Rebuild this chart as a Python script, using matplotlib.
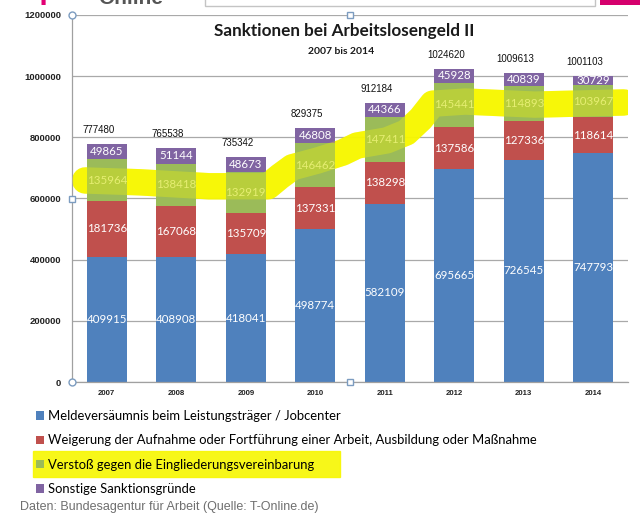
import matplotlib
matplotlib.use("Agg")
import matplotlib.pyplot as plt
from matplotlib.patches import Rectangle
import numpy as np

YEARS = ["2007", "2008", "2009", "2010", "2011", "2012", "2013", "2014"]
MELDE = [409915, 408908, 418041, 498774, 582109, 695665, 726545, 747793]
WEIGERUNG = [181736, 167068, 135709, 137331, 138298, 137586, 127336, 118614]
VERSTOSS = [135964, 138418, 132919, 146462, 147411, 145441, 114893, 103967]
SONSTIGE = [49865, 51144, 48673, 46808, 44366, 45928, 40839, 30729]
TOTALS = [777480, 765538, 735342, 829375, 912184, 1024620, 1009613, 1001103]

LABELS = ["Meldeversäumnis beim Leistungsträger / Jobcenter",
          "Weigerung der Aufnahme oder Fortführung einer Arbeit, Ausbildung oder Maßnahme",
          "Verstoß gegen die Eingliederungsvereinbarung",
          "Sonstige Sanktionsgründe"]

# freehand highlighter stroke (category position, value)
MARK_X = [-0.31, 0.47, 1.47, 2.32, 2.49, 2.67, 3.03, 3.39, 3.60, 4.03, 4.31, 4.52, 4.69, 5.16, 6.16, 7.44]
MARK_Y = [659e3, 653e3, 640e3, 640e3, 672e3, 702e3, 724e3, 750e3, 773e3, 790e3, 816e3, 861e3, 910e3, 917e3, 907e3, 914e3]

C_BLUE, C_RED, C_GREEN, C_PURPLE = "#4f81bd", "#c0504d", "#9bbb59", "#8064a2"
YELLOW = "#f7f700"
CAL = ["Lato", "DejaVu Sans"]
ARIAL = ["Liberation Sans", "DejaVu Sans"]

W, H = 640, 519
fig = plt.figure(figsize=(6.4, 5.19), dpi=100, facecolor="white")
ax = fig.add_axes([72 / W, 1 - 382 / H, 556 / W, 367 / H])

x = np.arange(len(YEARS))
bw = 0.57
series = [MELDE, WEIGERUNG, VERSTOSS, SONSTIGE]
colors = [C_BLUE, C_RED, C_GREEN, C_PURPLE]
txt_colors = ["white", "white", "#e6ee72", "white"]
bottom = np.zeros(len(YEARS))
handles = []
for vals, col, tc in zip(series, colors, txt_colors):
    vals = np.array(vals)
    b = ax.bar(x, vals, bw, bottom=bottom, color=col, zorder=2)
    handles.append(b)
    for xi, bo, v in zip(x, bottom, vals):
        ax.text(xi, bo + v / 2, f"{v}", ha="center", va="center", fontsize=8.3,
                color=tc, family=CAL, zorder=6)
    bottom = bottom + vals

for xi, t, top in zip(x, TOTALS, bottom):
    ax.text(xi - 0.12, top + 14 * 3263, f"{t}", ha="center", va="center",
            fontsize=7, color="#111111", family=ARIAL, zorder=6)

# highlighter: strong on white background, light tint over the bars
ax.plot(MARK_X, MARK_Y, color=YELLOW, lw=19, alpha=0.95, solid_capstyle="round",
        solid_joinstyle="round", zorder=1)
ax.plot(MARK_X, MARK_Y, color=YELLOW, lw=19, alpha=0.32, solid_capstyle="round",
        solid_joinstyle="round", zorder=3)

ax.set_xlim(-0.5, 7.5)
ax.set_ylim(0, 1200000)
ax.set_yticks(np.arange(0, 1200001, 200000))
ax.set_yticklabels([f"{v}" for v in range(0, 1200001, 200000)], fontsize=6.8,
                   family=ARIAL, weight="bold", color="#222222")
ax.set_xticks(x)
ax.set_xticklabels(YEARS, fontsize=5.6, family=ARIAL, weight="bold", color="#222222")
ax.tick_params(length=0, pad=8)
ax.tick_params(axis="x", pad=6)
ax.grid(axis="y", color="#a9a9a9", lw=0.9, zorder=0)
ax.set_axisbelow(True)
for s in ("top", "right"):
    ax.spines[s].set_visible(False)
for s in ("left", "bottom"):
    ax.spines[s].set_color("#a0a0a0")
    ax.spines[s].set_linewidth(0.9)

# Excel selection handles
for (hx, hy, m) in [(0, 1, "o"), (0.5, 1, "s"), (0, 0.5, "s"), (0, 0, "o"), (0.5, 0, "s")]:
    ax.plot(hx, hy, marker=m, ms=5, mfc="white", mec="#7c9cc0", mew=1,
            transform=ax.transAxes, clip_on=False, zorder=8)

fig.text(344 / W, 1 - 31 / H, "Sanktionen bei Arbeitslosengeld II", ha="center", va="center",
         fontsize=12.3, weight="bold", family=CAL, color="#1a1a1a")
fig.text(341 / W, 1 - 51 / H, "2007 bis 2014", ha="center", va="center",
         fontsize=7.5, weight="bold", family=CAL, color="#1a1a1a")

# legend highlight and legend
fig.patches.append(Rectangle((33 / W, 1 - 477 / H), 307 / W, 26 / H, transform=fig.transFigure,
                             color=YELLOW, alpha=0.9, zorder=0))
fig.legend(handles, LABELS, loc="upper left", bbox_to_anchor=(36 / W, 1 - 410 / H),
           frameon=False, prop={"family": CAL, "size": 9.4}, handlelength=0.6,
           handleheight=0.6, handletextpad=0.3, labelspacing=0.95, borderaxespad=0,
           borderpad=0)

fig.text(20 / W, 1 - 507 / H, "Daten: Bundesagentur für Arbeit (Quelle: T-Online.de)",
         ha="left", va="center", fontsize=9, color="#6f6f6f",
         family=["Liberation Sans Narrow", "Liberation Sans"])

# cut-off page header
fig.text(44 / W, 1 - 5 / H, "T", ha="center", va="baseline", fontsize=16, weight="bold",
         color="#e20074")
fig.text(98 / W, 1 - 4 / H, "Online", ha="left", va="baseline", fontsize=15, weight="bold",
         color="#555555", family=ARIAL)
fig.patches.append(Rectangle((205 / W, 1 - 6 / H), 390 / W, 20 / H, transform=fig.transFigure,
                             facecolor="white", edgecolor="#c4c4c4", lw=1))
fig.patches.append(Rectangle((600 / W, 1 - 5 / H), 40 / W, 10 / H, transform=fig.transFigure,
                             facecolor="#d5006d", edgecolor="none"))

fig.savefig("out.png", dpi=100, facecolor="white")
